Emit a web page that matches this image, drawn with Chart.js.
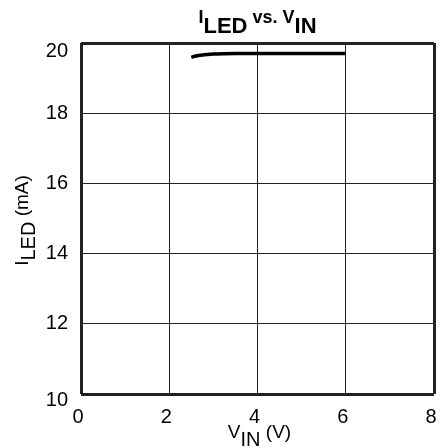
<!DOCTYPE html>
<html>
<head>
<meta charset="utf-8">
<script src="https://cdn.jsdelivr.net/npm/chart.js@4"></script>
<style>
html,body{margin:0;padding:0;background:#fff;}
canvas{display:block;}
</style>
</head>
<body>
<canvas id="c" width="443" height="448"></canvas>
<script>
const vin = [2.5, 2.6, 2.75, 3.0, 3.25, 3.5, 4.0, 4.5, 5.0, 5.5, 6.0];
const iled = [19.59, 19.63, 19.66, 19.685, 19.695, 19.70, 19.70, 19.70, 19.70, 19.70, 19.70];
const xTicks = [0, 2, 4, 6, 8];
const yTicks = [10, 12, 14, 16, 18, 20];

const FONT = "'Liberation Sans', Arial, sans-serif";

function drawSub(ctx, parts, x, y, align, rotate) {
  // parts: [text, size, bold, dy]
  ctx.save();
  let total = 0;
  parts.forEach(p => { ctx.font = (p[2] ? 'bold ' : '') + p[1] + 'px ' + FONT; total += ctx.measureText(p[0]).width; });
  ctx.translate(x, y);
  if (rotate) ctx.rotate(-Math.PI / 2);
  let cx = align === 'center' ? -total / 2 : 0;
  ctx.textBaseline = 'alphabetic';
  ctx.textAlign = 'left';
  ctx.fillStyle = '#000';
  parts.forEach(p => {
    ctx.font = (p[2] ? 'bold ' : '') + p[1] + 'px ' + FONT;
    ctx.fillText(p[0], cx, p[3]);
    cx += ctx.measureText(p[0]).width;
  });
  ctx.restore();
}

const labelPlugin = {
  id: 'labels',
  afterDraw(chart) {
    const ctx = chart.ctx;
    const xs = chart.scales.x, ys = chart.scales.y;
    const area = chart.chartArea;
    ctx.save();
    ctx.fillStyle = '#000';
    ctx.font = '20px ' + FONT;
    ctx.textAlign = 'right';
    ctx.textBaseline = 'middle';
    yTicks.forEach(v => {
      let py = ys.getPixelForValue(v);
      if (v === yTicks[yTicks.length - 1]) py += 8;
      if (v === yTicks[0]) py += 6;
      ctx.fillText(String(v), area.left - 13, py);
    });
    ctx.textAlign = 'center';
    ctx.textBaseline = 'top';
    xTicks.forEach(v => {
      ctx.fillText(String(v), xs.getPixelForValue(v) - 3, area.bottom + 13);
    });
    ctx.restore();
    const cx = (area.left + area.right) / 2;
    drawSub(ctx, [['I', 18, true, 0], ['LED', 22, true, 10], [' vs. ', 18, true, 0], ['V', 18, true, 0], ['IN', 22, true, 10]], cx, 23, 'center', false);
    drawSub(ctx, [['V', 19, false, 0], ['IN', 20, false, 8], [' (V)', 19, false, 0]], cx + 2, 438, 'center', false);
    drawSub(ctx, [['I', 19, false, 0], ['LED', 20, false, 7], [' (mA)', 19, false, 0]], 28, (area.top + area.bottom) / 2 + 2, 'center', true);
  }
};

new Chart(document.getElementById('c'), {
  type: 'line',
  data: {
    datasets: [{
      data: vin.map((x, i) => ({ x: x, y: iled[i] })),
      borderColor: '#000',
      borderWidth: 3.5,
      pointRadius: 0,
      fill: false,
      cubicInterpolationMode: 'monotone'
    }]
  },
  options: {
    responsive: false,
    animation: false,
    layout: { padding: { left: 81, top: 43, right: 9, bottom: 54 } },
    plugins: { legend: { display: false }, title: { display: false }, tooltip: { enabled: false } },
    scales: {
      x: {
        type: 'linear', min: 0, max: 8,
        ticks: { display: false, stepSize: 2 },
        grid: {
          drawTicks: false, color: '#222',
          lineWidth: c => (c.tick && (c.tick.value === 0 || c.tick.value === 8)) ? 3 : 1
        },
        border: { display: false }
      },
      y: {
        type: 'linear', min: 10, max: 20,
        ticks: { display: false, stepSize: 2 },
        grid: {
          drawTicks: false, color: '#222',
          lineWidth: c => (c.tick && (c.tick.value === 10 || c.tick.value === 20)) ? 3 : 1
        },
        border: { display: false }
      }
    }
  },
  plugins: [labelPlugin]
});
</script>
</body>
</html>
